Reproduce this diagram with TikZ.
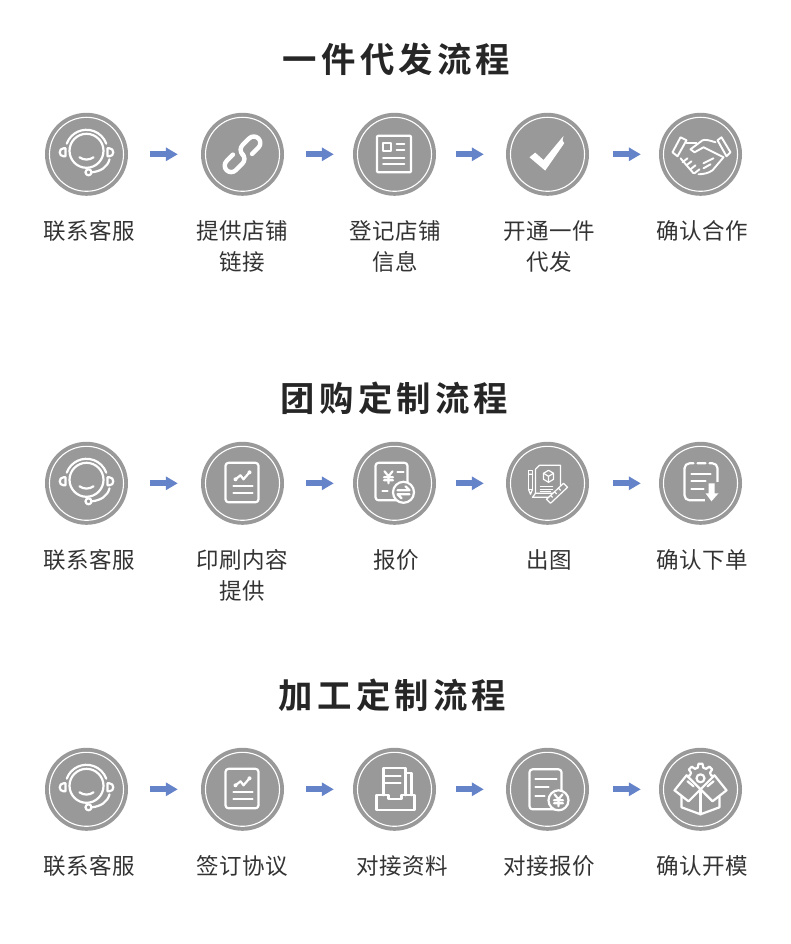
\documentclass[tikz,border=0pt]{standalone}
\usepackage{fontspec}
\usetikzlibrary{arrows.meta}
\setmainfont{Noto Sans CJK SC}
\newfontfamily\labelfont[LetterSpace=2]{Noto Sans CJK SC}
\newfontfamily\titlefont[LetterSpace=12,BoldFont={Noto Sans CJK SC Bold}]{Noto Sans CJK SC}
\definecolor{badgegray}{HTML}{999999}
\definecolor{arrowblue}{HTML}{6583C8}
\definecolor{labelink}{HTML}{333333}
\definecolor{titleink}{HTML}{262626}
\tikzset{
  badge/.style={circle,fill=badgegray,draw=none,minimum size=83,inner sep=0},
  ringline/.style={draw=white,line width=1.1},
  ic/.style={draw=white,line width=2.2,line cap=round,line join=round},
  icthin/.style={draw=white,line width=1.2,line cap=round,line join=round},
  mask/.style={fill=badgegray},
  flowarrow/.style={draw=arrowblue,line width=6,-{Triangle[length=12,width=13]}},
  steplabel/.style={font=\labelfont\fontsize{22.5}{31}\selectfont,text=labelink,align=center,inner sep=0},
  flowtitle/.style={font=\titlefont\bfseries\fontsize{34.4}{40}\selectfont,text=titleink,inner sep=0}
}
\newcommand\placeicon[2]{\begin{scope}[shift={(#1.center)}]\draw[ringline] (0,0) circle (37);#2\end{scope}}
\newcommand\yensign{%
  \draw[ic] (-4,-5) -- (0,0) -- (4,-5) (0,0) -- (0,7) (-4.5,1) -- (4.5,1) (-4.5,4) -- (4.5,4);}
\newcommand\iconHeadset{%
  \draw[ic] (0,-3.5) circle (17);
  \draw[ic] (0,-3.5) ++(200:21) arc (200:340:21);
  \draw[ic] (23,5) .. controls (21,13) and (14,17) .. (5.5,18);
  \draw[ic] (2,18) circle (3);
  \draw[ic] (-7,3) .. controls (-3,6) and (3,6) .. (7,3);
  \draw[ic] (-21,-6) -- (-23,-6) .. controls (-28,-6) and (-28,2) .. (-23,2) -- (-21,2) -- cycle;
  \draw[ic] (21,-6) -- (23,-6) .. controls (28,-6) and (28,2) .. (23,2) -- (21,2) -- cycle;}
\newcommand\iconLink{%
  \begin{scope}[rotate=45]
    \draw[ic,line width=4.4,rounded corners=6.5] (7,6.5) -- (22.5,6.5) -- (22.5,-6.5) -- (0,-6.5) -- (0,1);
    \draw[ic,line width=4.4,rounded corners=6.5] (-7,-6.5) -- (-22.5,-6.5) -- (-22.5,6.5) -- (0,6.5) -- (0,-1);
  \end{scope}}
\newcommand\iconCard{%
  \draw[ic,rounded corners=1] (-17.5,-18.5) rectangle (16.5,18);
  \draw[ic,line width=1.8] (-11.5,-11.5) rectangle (-3.5,-3.5);
  \draw[ic,line width=1.8] (2,-10) -- (10,-10) (2,-4) -- (10,-4) (-11.5,3.5) -- (10,3.5) (-11.5,10) -- (10,10);}
\newcommand\iconCheck{%
  \fill[white] (-18,3) -- (-12.3,-1.7) -- (-4,5.7) -- (16,-18.3) -- (15,-14) -- (16.7,-11) -- (-2.3,16.3) -- cycle;}
\newcommand\iconShake{%
  \draw[ic,line width=1.9] (-20,-17) -- (-14,-14) -- (-23,2) -- (-28,-2) -- cycle;
  \draw[ic,line width=1.9] (21,-17) -- (17,-14) -- (26,2) -- (30,-2) -- cycle;
  \draw[ic,line width=1.9] (-14,-11) -- (-4,-11);
  \draw[ic,line width=1.9] (15,-12) .. controls (9,-14) and (5,-15) .. (2,-14) -- (-10,-5) -- (-6,-2) -- (3,-7) -- (23,3);
  \draw[ic,line width=1.9] (23,3) -- (12,16) .. controls (8,19) and (2,20) .. (-2,20);
  \draw[ic,line width=1.9] (-20,4) -- (-7,19);
  \draw[ic,line width=1.9] (-18,8) -- (-13,4) (-14,11) -- (-9,7) (-10,15) -- (-5,11) (-6,19) -- (-1,15);
  \draw[ic,line width=1.9] (3,9) -- (13,4) (3,14) -- (10,10);}
\newcommand\iconChart{%
  \draw[ic,rounded corners=3] (-17,-20.5) rectangle (16,19);
  \draw[ic] (-7,-4) -- (-2,-8) -- (1,-4) -- (7,-11);
  \fill[white] (-7,-4) circle (2) (7,-11) circle (2);
  \draw[ic] (-9,2.7) -- (10,2.7) (-9,9.3) -- (10,9.3);}
\newcommand\iconCalc{%
  \draw[ic,rounded corners=3] (-19,-20.5) rectangle (13,17);
  \begin{scope}[shift={(-6,-7)}]\yensign\end{scope}
  \draw[ic] (3,-11) -- (9,-11) (-12,8) -- (-7,8);
  \draw[ic,mask] (9,9) circle (10.5);
  \draw[ic] (3,7) -- (15,7) -- (11,3) (15,11) -- (3,11) -- (7,15);}
\newcommand\iconDrawing{%
  \draw[icthin] (-19,-13) rectangle (-15,6);
  \draw[icthin] (-19,6) -- (-17,11) -- (-15,6) (-19,-9) -- (-15,-9);
  \draw[icthin] (-12,-14) -- (-8,-18) -- (13,-18) -- (13,10) -- (-12,10) -- cycle;
  \draw[icthin] (-15,14) -- (-12,10) (-15,14) -- (6,14);
  \draw[icthin] (1,-13) -- (6,-10) -- (6,-4) -- (1,-1) -- (-4,-4) -- (-4,-10) -- cycle;
  \draw[icthin] (-4,-10) -- (1,-7) -- (6,-10) (1,-7) -- (1,-1);
  \draw[icthin] (-7,3.5) -- (5,3.5) (-7,6) -- (5,6) (-7,8.5) -- (3,8.5);
  \draw[icthin,mask] (-1,16) -- (16,0) -- (20,4) -- (3,20) -- cycle;
  \draw[icthin] (3,12) -- (5,14) (7,8.5) -- (9,10.5) (11,5) -- (13,7);}
\newcommand\iconOrder{%
  \draw[ic] (-16,-15) arc (180:270:5) -- (-7,-20) (-3,-20) -- (5,-20) (9,-20) -- (12,-20) arc (270:360:5) -- (17,0);
  \draw[ic] (-16,-15) -- (-16,12) arc (180:90:5) -- (5,17);
  \draw[ic] (-9,-9) -- (10,-9) (-9,-2) -- (5,-2) (-9,6) -- (3,6);
  \fill[badgegray] (4,-1) rectangle (20,20);
  \fill[white] (8,0) -- (14,0) -- (14,10) -- (18,10) -- (11,18) -- (5,10) -- (8,10) -- cycle;}
\newcommand\iconInbox{%
  \draw[ic] (-11,6) -- (-11,-21) -- (11,-21) -- (11,6);
  \draw[ic] (11,-16) -- (17,-16) -- (17,6);
  \draw[ic] (-9,-13) -- (6,-13) (-9,-6) -- (6,-6);
  \draw[ic] (-18,6) -- (-6,6) -- (-6,10) -- (7,10) -- (7,6) -- (20,6) -- (20,21) -- (-18,21) -- cycle;}
\newcommand\iconReceipt{%
  \draw[ic,rounded corners=3] (-18,-20) rectangle (14,20);
  \draw[ic] (-12,-10) -- (9,-10) (-12,-2) -- (1,-2) (-12,7) -- (-3,7);
  \draw[ic,mask] (11,11) circle (10);
  \begin{scope}[shift={(11,10)}]\yensign\end{scope}}
\newcommand\iconBoxGear{%
  \begin{scope}[shift={(0,-11)}]
    \foreach \a in {0,45,...,315}{
      \begin{scope}[rotate=\a]
        \draw[ic] (2.8,-10.6) -- (2,-14.5) -- (-2,-14.5) -- (-2.8,-10.6) -- (-5.5,-9.5);
      \end{scope}}
    \draw[ic] (0,0) circle (4);
  \end{scope}
  \draw[ic,mask] (-19,6) -- (-19,18) -- (0,25) -- (19,18) -- (19,6) -- (0,0) -- cycle;
  \draw[ic] (0,0) -- (0,25);
  \draw[ic,mask] (-26,1) -- (-14,-14) -- (0,0) -- (-12,12) -- cycle;
  \draw[ic,mask] (26,1) -- (14,-14) -- (0,0) -- (12,12) -- cycle;
  \draw[ic] (-13,-8) -- (-7,-3) (13,-8) -- (7,-3);}
\begin{document}
\begin{tikzpicture}[x=1pt,y=-1pt]
\useasboundingbox (0,0) rectangle (790,944);
% titles
\node[flowtitle] (t1) at (396.5,59) {一件代发流程};
\node[flowtitle] (t2) at (394.5,398) {团购定制流程};
\node[flowtitle] (t3) at (392.5,695) {加工定制流程};
% row 1
\node[badge] (a1) at (86.5,154.3) {};
\node[badge] (a2) at (242.5,154.3) {};
\node[badge] (a3) at (394.5,154.3) {};
\node[badge] (a4) at (547.5,154.3) {};
\node[badge] (a5) at (700.5,154.3) {};
\placeicon{a1}{\iconHeadset}
\placeicon{a2}{\iconLink}
\placeicon{a3}{\iconCard}
\placeicon{a4}{\iconCheck}
\placeicon{a5}{\iconShake}
% row 2
\node[badge] (b1) at (86.5,483.3) {};
\node[badge] (b2) at (242.5,483.3) {};
\node[badge] (b3) at (394.5,483.3) {};
\node[badge] (b4) at (547.5,483.3) {};
\node[badge] (b5) at (700.5,483.3) {};
\placeicon{b1}{\iconHeadset}
\placeicon{b2}{\iconChart}
\placeicon{b3}{\iconCalc}
\placeicon{b4}{\iconDrawing}
\placeicon{b5}{\iconOrder}
% row 3
\node[badge] (c1) at (86.5,789.3) {};
\node[badge] (c2) at (242.5,789.3) {};
\node[badge] (c3) at (394.5,789.3) {};
\node[badge] (c4) at (547.5,789.3) {};
\node[badge] (c5) at (700.5,789.3) {};
\placeicon{c1}{\iconHeadset}
\placeicon{c2}{\iconChart}
\placeicon{c3}{\iconInbox}
\placeicon{c4}{\iconReceipt}
\placeicon{c5}{\iconBoxGear}
% arrows
\foreach \r in {a,b,c}{
  \draw[flowarrow,shorten <=22,shorten >=23] (\r1) -- (\r2);
  \draw[flowarrow,shorten <=22,shorten >=19] (\r2) -- (\r3);
  \draw[flowarrow,shorten <=20,shorten >=22] (\r3) -- (\r4);
  \draw[flowarrow,shorten <=24,shorten >=18] (\r4) -- (\r5);
}
% labels
\node[steplabel,anchor=north] (la1) at (89,220) {联系客服};
\node[steplabel,anchor=north] (la2) at (242.5,220) {提供店铺\\链接};
\node[steplabel,anchor=north] (la3) at (395.5,220) {登记店铺\\信息};
\node[steplabel,anchor=north] (la4) at (549,220) {开通一件\\代发};
\node[steplabel,anchor=north] (la5) at (702,220) {确认合作};
\node[steplabel,anchor=north] (lb1) at (89,549) {联系客服};
\node[steplabel,anchor=north] (lb2) at (242.5,549) {印刷内容\\提供};
\node[steplabel,anchor=north] (lb3) at (396,549) {报价};
\node[steplabel,anchor=north] (lb4) at (549.5,549) {出图};
\node[steplabel,anchor=north] (lb5) at (702,549) {确认下单};
\node[steplabel,anchor=north] (lc1) at (89,855) {联系客服};
\node[steplabel,anchor=north] (lc2) at (242.5,855) {签订协议};
\node[steplabel,anchor=north] (lc3) at (402,855) {对接资料};
\node[steplabel,anchor=north] (lc4) at (549,855) {对接报价};
\node[steplabel,anchor=north] (lc5) at (702,855) {确认开模};
\end{tikzpicture}
\end{document}
